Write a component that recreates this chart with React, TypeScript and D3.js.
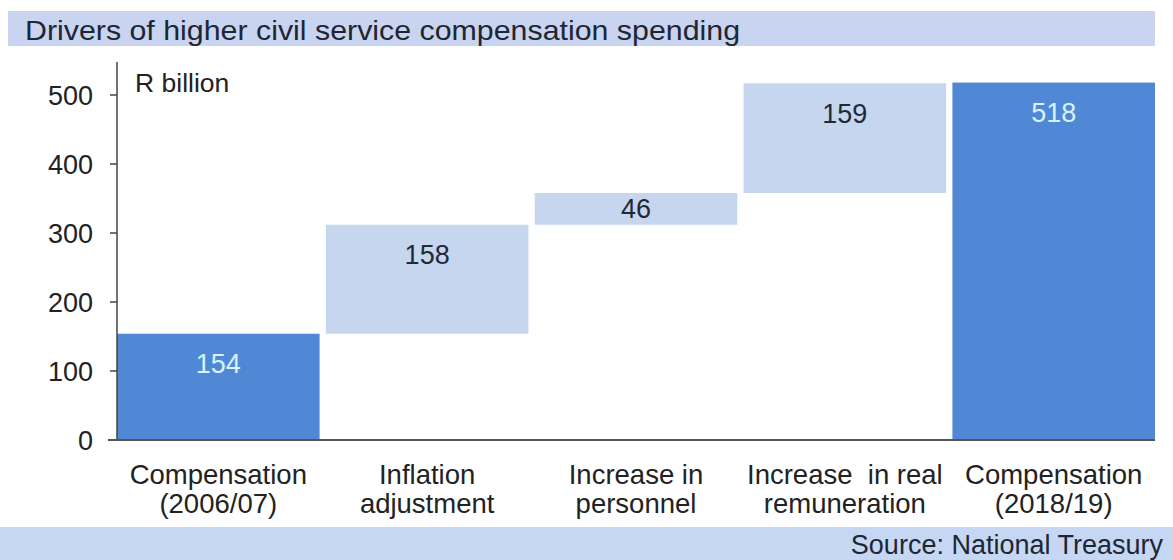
import React from "react";
import * as d3 from "d3";

const categoryLine1 = ["Compensation", "Inflation", "Increase in", "Increase  in real", "Compensation"];
const categoryLine2 = ["(2006/07)", "adjustment", "personnel", "remuneration", "(2018/19)"];
const values = [154, 158, 46, 159, 518];
const kinds = ["total", "delta", "delta", "delta", "total"];
const yTicks = [0, 100, 200, 300, 400, 500];

const W = 1173;
const H = 560;
const FONT = "'Liberation Sans', Arial, Helvetica, sans-serif";

export default function App() {
  const x = d3.scaleBand<number>().domain(d3.range(values.length)).range([117, 1155]).paddingInner(0.03).paddingOuter(0);
  const y = d3.scaleLinear().domain([0, 500]).range([440, 95]);

  let running = 0;
  const bars = values.map((v, i) => {
    let lo: number, hi: number;
    if (kinds[i] === "total") {
      lo = 0;
      hi = v;
      running = v;
    } else {
      lo = running;
      hi = running + v;
      running = hi;
    }
    return { i, v, lo, hi, kind: kinds[i] };
  });

  return (
    <svg width={W} height={H} style={{ position: "absolute", left: 0, top: 0, background: "#fff" }} fontFamily={FONT}>
      <rect x={8} y={11} width={1147} height={35} fill="#c9d4f0" />
      <text x={25} y={40} fontSize={28} fill="#1e2633" textLength={715} lengthAdjust="spacingAndGlyphs">
        Drivers of higher civil service compensation spending
      </text>

      {bars.map((b) => {
        const top = y(b.hi);
        const h = y(b.lo) - y(b.hi);
        const cy = h < 60 ? top + h / 2 : top + 30;
        return (
          <g key={b.i}>
            <rect
              x={x(b.i)}
              y={top}
              width={x.bandwidth()}
              height={h}
              fill={b.kind === "total" ? "#5088d6" : "#c6d6ef"}
            />
            <text
              x={(x(b.i) as number) + x.bandwidth() / 2}
              y={cy + 9.5}
              textAnchor="middle"
              fontSize={27}
              fill={b.kind === "total" ? "#d8f2ff" : "#1f2a38"}
            >
              {b.v}
            </text>
          </g>
        );
      })}

      <line x1={117} x2={117} y1={62} y2={440} stroke="#444" strokeWidth={1.5} />
      {yTicks.map((t) => (
        <g key={t}>
          <line x1={110} x2={117} y1={y(t)} y2={y(t)} stroke="#444" strokeWidth={1.5} />
          <text x={93} y={y(t) + 10} textAnchor="end" fontSize={27} fill="#222">{t}</text>
        </g>
      ))}
      <line x1={108} x2={1155} y1={440} y2={440} stroke="#555" strokeWidth={2} />
      <text x={135} y={92} fontSize={26.5} fill="#222">R billion</text>

      {categoryLine1.map((c, i) => (
        <g key={i}>
          <text x={(x(i) as number) + x.bandwidth() / 2} y={484} textAnchor="middle" fontSize={27.5} fill="#222" style={{ whiteSpace: "pre" }}>{c}</text>
          <text x={(x(i) as number) + x.bandwidth() / 2} y={513} textAnchor="middle" fontSize={27.5} fill="#222">{categoryLine2[i]}</text>
        </g>
      ))}

      <rect x={0} y={527} width={W} height={33} fill="#c5d7f3" />
      <text x={1163} y={554} textAnchor="end" fontSize={27} fill="#1e2633">Source: National Treasury</text>
    </svg>
  );
}
